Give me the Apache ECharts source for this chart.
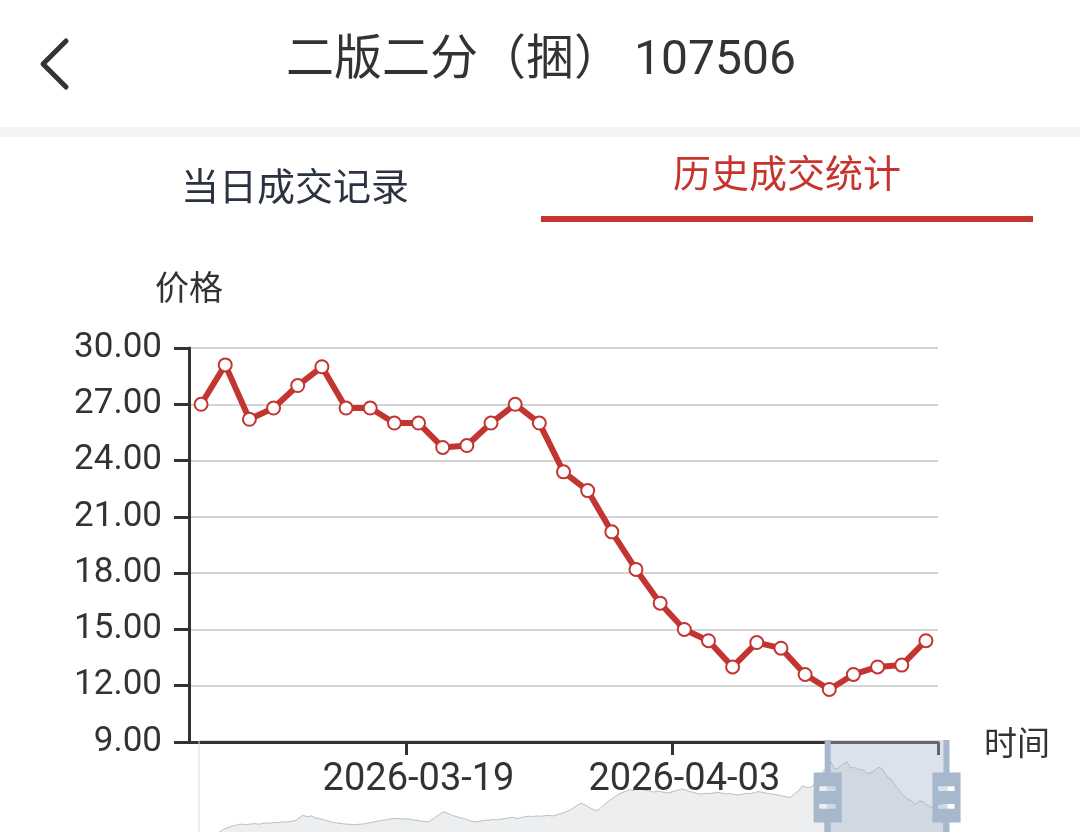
<!DOCTYPE html>
<html>
<head>
<meta charset="utf-8">
<script src="https://cdn.jsdelivr.net/npm/echarts@6/dist/echarts.min.js"></script>
<style>
  html, body { margin: 0; padding: 0; background: #ffffff; }
  #chart { width: 1080px; height: 832px; }
</style>
</head>
<body>
<div id="chart"></div>
<script>
// ---------- data ----------
const titleText = '二版二分（捆） 107506';
const tabLabels = ['当日成交记录', '历史成交统计'];
const yAxisName = '价格';
const xAxisName = '时间';
const firstTradeDate = '2025-07-31';   // first category (weekday trading days)
const tradeDayCount = 187;

// prices (earlier history)
const earlyPrices = [
  2.0, 2.1, 2.0, 2.2, 2.1, 2.3, 3.4, 4.1, 4.6, 5.0,
  5.4, 5.5, 5.3, 5.6, 5.7, 5.5, 5.8, 6.0, 5.9, 6.2,
  6.1, 6.4, 6.3, 6.6, 6.8, 7.9, 8.9, 8.3, 8.6, 7.9,
  7.6, 7.2, 6.8, 6.3, 6.0, 5.9, 5.6, 5.5, 5.4, 5.3,
  5.5, 5.6, 5.9, 6.2, 6.5, 6.8, 7.0, 7.3, 7.5, 7.7,
  7.6, 7.4, 7.5, 7.2, 7.0, 6.7, 6.5, 6.4, 7.2, 8.3,
  9.4, 10.2, 9.5, 8.8, 8.4, 7.9, 7.7, 7.0, 6.6, 6.4,
  6.7, 7.0, 7.0, 7.3, 7.1, 7.4, 7.6, 7.9, 8.1, 7.6
];
const midPrices = [
  7.9, 8.3, 8.5, 8.4, 8.6, 8.5, 8.7, 8.8, 8.6, 9.0,
  9.5, 10.0, 10.6, 11.5, 12.6, 13.4, 12.8, 11.9, 11.0, 10.6,
  11.8, 13.2, 14.4, 15.4, 16.5, 17.3, 17.8, 18.5, 18.2, 18.9,
  18.6, 18.3, 18.1, 17.6, 18.0, 17.7, 17.3, 17.4, 17.9, 18.3,
  18.8, 18.4, 17.8, 17.5, 17.0, 16.9, 17.2, 17.0, 17.3, 17.5,
  17.2, 16.9, 17.1, 16.7, 16.5, 16.8, 17.1, 17.0, 17.4, 17.8,
  17.5, 17.2, 16.9, 16.8, 16.5, 16.1, 15.8, 15.6, 16.9, 18.1,
  20.0, 19.3, 19.4, 20.8, 23.0, 25.2
];
const recentPrices = [
  27.0, 29.1, 26.2, 26.8, 28.0, 29.0, 26.8, 26.8, 26.0, 26.0,
  24.7, 24.8, 26.0, 27.0, 26.0, 23.4, 22.4, 20.2, 18.2, 16.4,
  15.0, 14.4, 13.0, 14.3, 14.0, 12.6, 11.8, 12.6, 13.0, 13.1,
  14.4
];
const yMin = 9, yMax = 30, yStep = 3;
const labelEvery = 11; // one date label every 11 trading days

// ---------- build ----------
function tradingDays(start, count) {
  const out = [];
  const d = new Date(start + 'T00:00:00Z');
  while (out.length < count) {
    const wd = d.getUTCDay();
    if (wd !== 0 && wd !== 6) {
      const m = String(d.getUTCMonth() + 1).padStart(2, '0');
      const dd = String(d.getUTCDate()).padStart(2, '0');
      out.push(d.getUTCFullYear() + '-' + m + '-' + dd);
    }
    d.setUTCDate(d.getUTCDate() + 1);
  }
  return out;
}
const dates = tradingDays(firstTradeDate, tradeDayCount);
const prices = earlyPrices.concat(midPrices, recentPrices);
const windowStart = prices.length - recentPrices.length;
const windowEnd = prices.length - 1;

const numFont = 'Roboto, "Noto Sans CJK SC", sans-serif';
const cjkFont = '"Noto Sans CJK SC", Roboto, sans-serif';
const red = '#c23531';
const v4Handle = 'path://M8.2,13.6V3.9H6.3v9.7H3.1v14.9h3.3v9.7h1.8v-9.7h3.3V13.6H8.2z M9.7,24.4H4.8v-1.4h4.9V24.4z M9.7,19.1H4.8v-1.4h4.9V19.1z';

const chart = echarts.init(document.getElementById('chart'), null, { renderer: 'canvas' });
chart.setOption({
  backgroundColor: '#ffffff',
  animation: false,
  graphic: [
    { type: 'polyline', shape: { points: [[66, 41], [43, 64], [66, 87]] },
      style: { stroke: '#333333', lineWidth: 5, fill: null, lineCap: 'round', lineJoin: 'round' } },
    { type: 'text', x: 541, y: 62,
      style: { text: titleText, align: 'center', verticalAlign: 'middle', fontSize: 48, fontFamily: numFont, fill: '#333333' } },
    { type: 'rect', shape: { x: 0, y: 127, width: 1080, height: 10 }, style: { fill: '#f4f4f4' } },
    { type: 'text', x: 295, y: 186,
      style: { text: tabLabels[0], align: 'center', verticalAlign: 'middle', fontSize: 38, fontFamily: cjkFont, fill: '#2b3340' } },
    { type: 'text', x: 787, y: 173,
      style: { text: tabLabels[1], align: 'center', verticalAlign: 'middle', fontSize: 38, fontFamily: cjkFont, fill: '#c8332d' } },
    { type: 'rect', shape: { x: 541, y: 216, width: 492, height: 6 }, style: { fill: '#c8332d' } }
  ],
  grid: { left: 189, right: 142, top: 348, bottom: 90, outerBoundsMode: 'none' },
  xAxis: {
    type: 'category',
    data: dates,
    boundaryGap: true,
    name: xAxisName,
    nameLocation: 'end',
    nameGap: 46,
    nameTextStyle: { fontSize: 33, color: '#333333', fontFamily: cjkFont, padding: [0, 0, 10, 0] },
    axisLine: { show: true, lineStyle: { color: '#333333', width: 3 } },
    axisTick: { show: true, length: 13, lineStyle: { color: '#333333', width: 3 } },
    axisLabel: { interval: labelEvery - 1, fontSize: 38, color: '#333333', fontFamily: numFont, margin: 19 },
    splitLine: { show: false }
  },
  yAxis: {
    type: 'value',
    min: yMin, max: yMax, interval: yStep,
    name: yAxisName,
    nameLocation: 'end',
    nameGap: 44,
    nameTextStyle: { fontSize: 34, color: '#333333', fontFamily: cjkFont },
    axisLine: { show: true, lineStyle: { color: '#333333', width: 3 } },
    axisTick: { show: true, length: 15, lineStyle: { color: '#333333', width: 3 } },
    axisLabel: { fontSize: 35, color: '#333333', fontFamily: numFont, margin: 27,
      formatter: v => v.toFixed(2) },
    splitLine: { show: true, lineStyle: { color: '#d4d4d4', width: 2 } }
  },
  dataZoom: [{
    type: 'slider',
    xAxisIndex: 0,
    startValue: windowStart,
    endValue: windowEnd,
    filterMode: 'filter',
    left: 196, right: 135, top: 740, height: 115,
    showDetail: false,
    brushSelect: false,
    backgroundColor: 'rgba(47,69,84,0)',
    borderColor: '#dddddd',
    fillerColor: 'rgba(167,183,204,0.4)',
    handleIcon: v4Handle,
    handleSize: '100%',
    handleStyle: { color: '#a7b7cc', borderWidth: 0 },
    emphasis: { handleStyle: { color: '#a7b7cc', borderWidth: 0 } },
    dataBackground: {
      lineStyle: { color: '#2f4554', width: 1, opacity: 0.3 },
      areaStyle: { color: 'rgba(47,69,84,0.3)', opacity: 0.3 }
    },
    selectedDataBackground: {
      lineStyle: { color: '#2f4554', width: 1, opacity: 0.3 },
      areaStyle: { color: 'rgba(47,69,84,0.3)', opacity: 0.3 }
    }
  }],
  series: [{
    type: 'line',
    data: prices,
    symbol: 'emptyCircle',
    symbolSize: 13,
    showSymbol: true,
    showAllSymbol: true,
    lineStyle: { color: red, width: 6 },
    itemStyle: { color: red, borderColor: red, borderWidth: 3.5 }
  }]
});
</script>
</body>
</html>
